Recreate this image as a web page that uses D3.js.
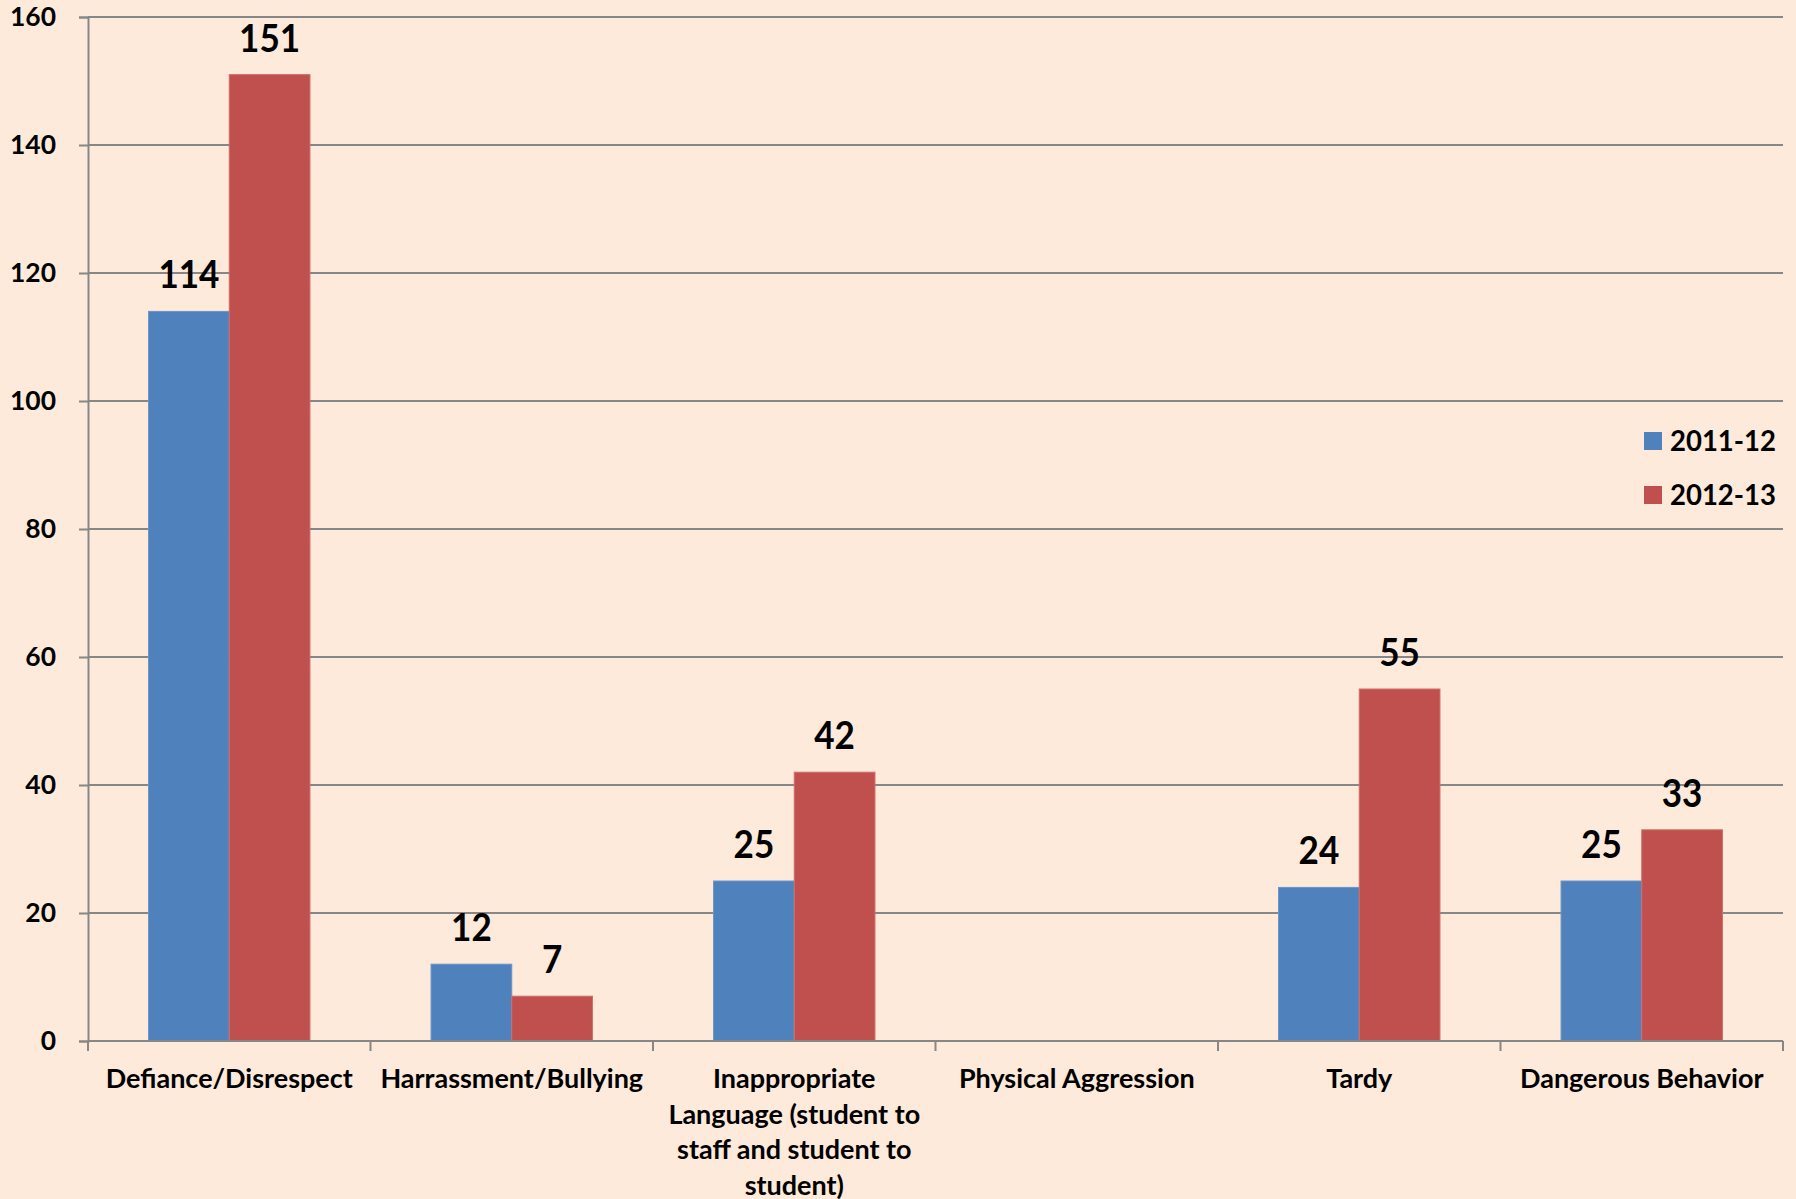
<!DOCTYPE html>
<html>
<head>
<meta charset="utf-8">
<script src="https://cdn.jsdelivr.net/npm/d3@7"></script>
<style>
  html, body { margin: 0; padding: 0; background: #fdeada; }
  svg { display: block; }
  text { font-family: Lato, "Open Sans", "DejaVu Sans", sans-serif; font-weight: bold; fill: #000; }
</style>
</head>
<body>
<script>
// chart data
var categories = ["Defiance/Disrespect", "Harrassment/Bullying", "Inappropriate Language", "Physical Aggression", "Tardy", "Dangerous Behavior"];
var categoryLines = [
  ["Defiance/Disrespect"],
  ["Harrassment/Bullying"],
  ["Inappropriate", "Language (student to", "staff and student to", "student)"],
  ["Physical Aggression"],
  ["Tardy"],
  ["Dangerous Behavior"]
];
var seriesNames = ["2011-12", "2012-13"];
var values2011 = [114, 12, 25, null, 24, 25];
var values2012 = [151, 7, 42, null, 55, 33];
var yTicks = [0, 20, 40, 60, 80, 100, 120, 140, 160];
var colors = ["#4f81bd", "#c0504d"];

var width = 1796, height = 1199;
var margin = {left: 88, right: 13, top: 17, bottom: 158};

var svg = d3.select("body").append("svg")
    .attr("width", width)
    .attr("height", height);

// the reference font is narrow (Calibri-like): squeeze text horizontally
function squeeze(sel, sample, target, size) {
  var probe = svg.append("text").attr("font-size", size).text(sample);
  var f = target / probe.node().getComputedTextLength();
  probe.remove();
  sel.each(function() {
    var el = d3.select(this);
    var parts = el.selectAll("tspan").empty() ? el : el.selectAll("tspan");
    parts.each(function() {
      var w = this.getComputedTextLength();
      d3.select(this).attr("textLength", w * f).attr("lengthAdjust", "spacingAndGlyphs");
    });
  });
}

var x = d3.scaleBand()
    .domain(categories)
    .range([margin.left, width - margin.right]);

// Excel style gap width 150%
var x1 = d3.scaleBand()
    .domain(seriesNames)
    .range([0, x.bandwidth()])
    .paddingInner(0)
    .paddingOuter(0.75);

var y = d3.scaleLinear()
    .domain([0, 160])
    .range([height - margin.bottom, margin.top]);

var gridColor = "#878787";

// gridlines
svg.append("g")
  .selectAll("line")
  .data(yTicks.slice(1))
  .enter().append("line")
    .attr("x1", margin.left)
    .attr("x2", width - margin.right)
    .attr("y1", function(d) { return y(d); })
    .attr("y2", function(d) { return y(d); })
    .attr("stroke", gridColor)
    .attr("stroke-width", 2);

// y axis
var yAxis = svg.append("g")
    .attr("transform", "translate(" + margin.left + ",0)")
    .call(d3.axisLeft(y).tickValues(yTicks).tickSize(9).tickPadding(23));
yAxis.select(".domain").attr("stroke", gridColor).attr("stroke-width", 2);
yAxis.selectAll(".tick line").attr("stroke", gridColor).attr("stroke-width", 2);
var yLabels = yAxis.selectAll(".tick text")
    .attr("font-size", 27)
    .attr("font-family", null)
    .attr("fill", "#000");
squeeze(yLabels, "160", 46, 27);

// bars
var rows = categories.map(function(c, i) {
  return {cat: c, vals: [values2011[i], values2012[i]]};
});

var groups = svg.append("g")
  .selectAll("g")
  .data(rows)
  .enter().append("g")
    .attr("transform", function(d) { return "translate(" + x(d.cat) + ",0)"; });

var bars = groups.selectAll("rect")
  .data(function(d) {
    return d.vals.map(function(v, j) { return {s: seriesNames[j], v: v, j: j}; })
      .filter(function(e) { return e.v != null; });
  })
  .enter();

bars.append("rect")
    .attr("x", function(d) { return x1(d.s); })
    .attr("width", x1.bandwidth())
    .attr("y", function(d) { return y(d.v); })
    .attr("height", function(d) { return y(0) - y(d.v); })
    .attr("fill", function(d) { return colors[d.j]; })
    .attr("stroke", function(d) { return d.j === 0 ? "#6a95c8" : "#cf6e6b"; })
    .attr("stroke-width", 1);

var valueLabels = bars.append("text")
    .attr("x", function(d) { return x1(d.s) + x1.bandwidth() / 2; })
    .attr("y", function(d) { return y(d.v) - 23; })
    .attr("text-anchor", "middle")
    .attr("font-size", 38)
    .text(function(d) { return d.v; });
squeeze(valueLabels, "151", 61, 38);

// x axis
var xAxis = svg.append("g")
    .attr("transform", "translate(0," + y(0) + ")");
xAxis.append("line")
    .attr("x1", margin.left)
    .attr("x2", width - margin.right)
    .attr("stroke", gridColor)
    .attr("stroke-width", 2);
xAxis.selectAll(".xtick")
  .data(d3.range(categories.length + 1))
  .enter().append("line")
    .attr("x1", function(i) { return margin.left + i * x.step(); })
    .attr("x2", function(i) { return margin.left + i * x.step(); })
    .attr("y1", 0)
    .attr("y2", 10)
    .attr("stroke", gridColor)
    .attr("stroke-width", 2);

var xLabels = xAxis.selectAll(".xlabel")
  .data(categories)
  .enter().append("text")
    .attr("text-anchor", "middle")
    .attr("font-size", 27)
    .attr("transform", function(d) { return "translate(" + (x(d) + x.bandwidth() / 2) + ",47)"; })
    .each(function(d, i) {
      var t = d3.select(this);
      categoryLines[i].forEach(function(line, k) {
        t.append("tspan").attr("x", 0).attr("y", k * 35.5).text(line);
      });
    });
squeeze(xLabels, "Defiance/Disrespect", 247, 27);

// legend
var legend = svg.append("g")
  .selectAll("g")
  .data(seriesNames)
  .enter().append("g")
    .attr("transform", function(d, i) { return "translate(1644," + (432 + i * 54) + ")"; });
legend.append("rect")
    .attr("width", 18)
    .attr("height", 18)
    .attr("fill", function(d, i) { return colors[i]; });
var legendText = legend.append("text")
    .attr("x", 26)
    .attr("y", 9)
    .attr("dy", "0.36em")
    .attr("font-size", 28)
    .text(function(d) { return d; });
squeeze(legendText, "2011-12", 106, 28);
</script>
</body>
</html>
